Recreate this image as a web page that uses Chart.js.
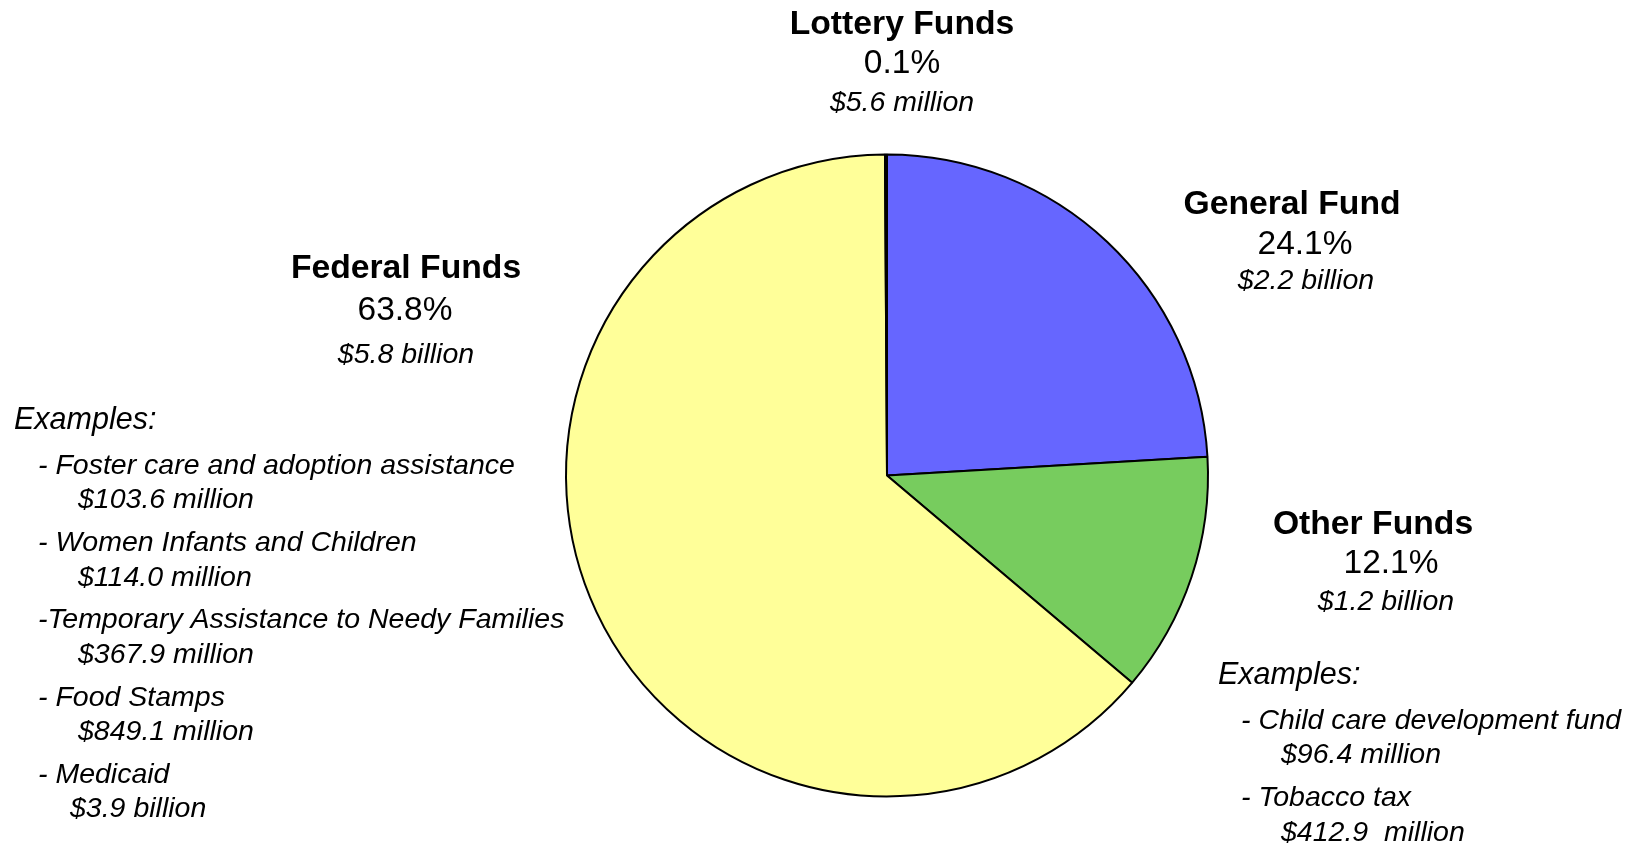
<!DOCTYPE html>
<html>
<head>
    <script src="https://cdn.jsdelivr.net/npm/chart.js"></script>
    <title>Funding sources</title>
    <style>
        html, body { margin: 0; padding: 0; background: #fff; }
        #wrap { width: 1633px; height: 845px; }
    </style>
</head>
<body>
    <div id="wrap">
        <canvas id="fundsChart" width="1633" height="845"></canvas>
    </div>

    <script>
        // slices go clockwise from 12 o'clock
        const categories = ['General Fund', 'Other Funds', 'Federal Funds', 'Lottery Funds'];
        const shares = [24.1, 12.1, 63.8, 0.1];
        const amounts = ['$2.2 billion', '$1.2 billion', '$5.8 billion', '$5.6 million'];
        const sliceColors = ['#6666FF', '#77CC5E', '#FFFF99', '#FF9966'];

        const federalExamples = [
            ['- Foster care and adoption assistance', '$103.6 million'],
            ['- Women Infants and Children', '$114.0 million'],
            ['-Temporary Assistance to Needy Families', '$367.9 million'],
            ['- Food Stamps', '$849.1 million'],
            ['- Medicaid', '$3.9 billion']
        ];
        const otherExamples = [
            ['- Child care development fund', '$96.4 million'],
            ['- Tobacco tax', '$412.9  million']
        ];

        // where each heading block sits (centre x, y of name / percent / amount)
        const headings = {
            'General Fund':  { x: 1292, y: [205, 245, 281], px: 1305, ax: 1306 },
            'Other Funds':   { x: 1373, y: [525, 564, 602], px: 1391, ax: 1386 },
            'Federal Funds': { x: 406,  y: [269, 311, 355], px: 405,  ax: 406 },
            'Lottery Funds': { x: 902,  y: [25, 64, 103],   px: 902,  ax: 902 }
        };
        const exampleBlocks = [
            { list: federalExamples, x: 14, y: 421, indent: 24, amountIndent: 64, lastIndent: 56 },
            { list: otherExamples, x: 1218, y: 676, indent: 23, amountIndent: 63, lastIndent: 63 }
        ];

        const FONT = '"Liberation Sans", Arial, Helvetica, sans-serif';

        const fundLabels = {
            id: 'fundLabels',
            afterDraw(chart) {
                const ctx = chart.ctx;
                ctx.save();
                ctx.fillStyle = '#000';
                ctx.textBaseline = 'middle';
                ctx.textAlign = 'center';
                categories.forEach((name, i) => {
                    const h = headings[name];
                    ctx.font = 'bold 33.7px ' + FONT;
                    ctx.fillText(name, h.x, h.y[0]);
                    ctx.font = '33.5px ' + FONT;
                    ctx.fillText(shares[i].toFixed(1) + '%', h.px, h.y[1]);
                    ctx.font = 'italic 28.5px ' + FONT;
                    ctx.fillText(amounts[i], h.ax, h.y[2]);
                });

                ctx.textAlign = 'left';
                exampleBlocks.forEach(b => {
                    ctx.font = 'italic 30.5px ' + FONT;
                    ctx.fillText('Examples:', b.x, b.y);
                    ctx.font = 'italic 28.5px ' + FONT;
                    let y = b.y + 45;
                    b.list.forEach((item, k) => {
                        ctx.fillText(item[0], b.x + b.indent, y);
                        const ai = k === b.list.length - 1 ? b.lastIndent : b.amountIndent;
                        ctx.fillText(item[1], b.x + ai, y + 34.5);
                        y += 77.2;
                    });
                });
                ctx.restore();
            }
        };

        const ctx = document.getElementById('fundsChart').getContext('2d');
        const chart = new Chart(ctx, {
            type: 'pie',
            data: {
                labels: categories,
                datasets: [{
                    data: shares,
                    backgroundColor: sliceColors,
                    borderColor: '#000',
                    borderWidth: 2
                }]
            },
            options: {
                responsive: false,
                animation: false,
                radius: 321,
                layout: { padding: { left: 141, right: 0, top: 106, bottom: 0 } },
                plugins: {
                    legend: { display: false },
                    tooltip: { enabled: false }
                }
            },
            plugins: [fundLabels]
        });
    </script>
</body>
</html>
